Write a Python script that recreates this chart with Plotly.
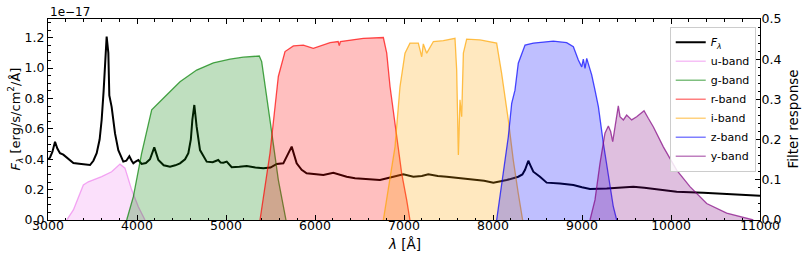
import plotly.graph_objects as go

# ---------------- data ----------------
spec_wave = [3000, 3022, 3050, 3079, 3105, 3135, 3172, 3230, 3285, 3350, 3420, 3472, 3510, 3547,
             3580, 3603, 3625, 3640, 3659, 3678, 3689, 3715, 3735, 3753, 3790, 3846, 3880, 3914,
             3940, 3959, 3985, 4015, 4052, 4100, 4146, 4175, 4194, 4215, 4240, 4300, 4371, 4430,
             4483, 4540, 4577, 4605, 4622, 4644, 4670, 4708, 4783, 4850, 4913, 4940, 4970, 5008,
             5064, 5150, 5233, 5330, 5420, 5500, 5570, 5644, 5682, 5719, 5738, 5794, 5850, 5906,
             6000, 6094, 6206, 6356, 6450, 6581, 6730, 6880, 6992, 7105, 7200, 7273, 7380, 7480,
             7600, 7742, 7900, 8004, 8154, 8284, 8330, 8360, 8397, 8420, 8453, 8528, 8603, 8753,
             8903, 9000, 9090, 9278, 9427, 9577, 9700, 9801, 10064, 10363, 10738, 11000]
spec_flux_1e17 = [0.40, 0.41, 0.45, 0.515, 0.47, 0.44, 0.43, 0.40, 0.375, 0.37, 0.365, 0.362, 0.39, 0.44,
                  0.53, 0.66, 0.85, 1.05, 1.207, 1.10, 0.82, 0.745, 0.65, 0.57, 0.46, 0.384, 0.39, 0.42,
                  0.39, 0.373, 0.385, 0.395, 0.369, 0.375, 0.40, 0.45, 0.478, 0.44, 0.395, 0.36, 0.351, 0.36,
                  0.373, 0.40, 0.44, 0.53, 0.66, 0.757, 0.614, 0.46, 0.384, 0.38, 0.395, 0.378, 0.377, 0.384,
                  0.347, 0.35, 0.355, 0.345, 0.34, 0.345, 0.369, 0.373, 0.417, 0.46, 0.483, 0.373, 0.33, 0.307,
                  0.30, 0.296, 0.311, 0.285, 0.275, 0.268, 0.263, 0.285, 0.301, 0.285, 0.29, 0.301, 0.29, 0.285,
                  0.278, 0.268, 0.258, 0.246, 0.263, 0.285, 0.30, 0.33, 0.39, 0.36, 0.318, 0.285, 0.246, 0.241,
                  0.23, 0.215, 0.204, 0.208, 0.215, 0.219, 0.212, 0.204, 0.186, 0.18, 0.171, 0.16]

u_wave = [3210, 3285, 3397, 3453, 3603, 3715, 3809, 3865, 3940, 4015, 4090]
u_resp = [0.0, 0.025, 0.087, 0.095, 0.108, 0.12, 0.139, 0.129, 0.075, 0.033, 0.0]

g_wave = [3884, 3959, 4052, 4165, 4296, 4483, 4670, 4858, 5045, 5194, 5374, 5401, 5494, 5588, 5674]
g_resp = [0.0, 0.058, 0.166, 0.274, 0.303, 0.344, 0.373, 0.391, 0.40, 0.405, 0.408, 0.394, 0.249, 0.10, 0.0]

r_wave = [5382, 5494, 5588, 5663, 5757, 5869, 5981, 6169, 6260, 6273, 6285, 6356, 6543, 6768,
          6806, 6843, 6890, 6899, 6918, 6974, 7030, 7067]
r_resp = [0.0, 0.166, 0.357, 0.419, 0.433, 0.435, 0.427, 0.441, 0.444, 0.434, 0.444, 0.446, 0.452, 0.454,
          0.415, 0.332, 0.255, 0.241, 0.216, 0.116, 0.05, 0.0]

i_wave = [6768, 6843, 6899, 6955, 7011, 7067, 7161, 7180, 7199, 7217, 7255, 7330, 7442, 7573, 7592,
          7611, 7629, 7648, 7667, 7704, 7854, 8041, 8097, 8172, 8228, 8284, 8333]
i_resp = [0.0, 0.10, 0.182, 0.332, 0.415, 0.44, 0.44, 0.423, 0.406, 0.438, 0.415, 0.444, 0.446, 0.452, 0.373,
          0.162, 0.299, 0.257, 0.415, 0.450, 0.448, 0.44, 0.365, 0.249, 0.149, 0.066, 0.0]

z_wave = [8041, 8097, 8172, 8210, 8247, 8284, 8360, 8453, 8678, 8828, 8903, 8959, 8997, 9015, 9034,
          9053, 9070, 9109, 9146, 9184, 9240, 9296, 9352, 9390]
z_resp = [0.0, 0.083, 0.207, 0.29, 0.323, 0.39, 0.435, 0.44, 0.445, 0.441, 0.431, 0.398, 0.381, 0.40, 0.377,
          0.402, 0.39, 0.361, 0.323, 0.282, 0.191, 0.108, 0.033, 0.0]

y_wave = [9090, 9146, 9202, 9258, 9296, 9322, 9345, 9371, 9390, 9408, 9427, 9465, 9502, 9558, 9614,
          9652, 9697, 9745, 9801, 9914, 10064, 10213, 10401, 10626, 10925]
y_resp = [0.0, 0.05, 0.141, 0.216, 0.234, 0.22, 0.195, 0.232, 0.249, 0.284, 0.257, 0.249, 0.261, 0.249, 0.257,
          0.265, 0.272, 0.253, 0.232, 0.182, 0.124, 0.083, 0.041, 0.017, 0.0]

band_names = ["u-band", "g-band", "r-band", "i-band", "z-band", "y-band"]
band_rgb = [(238, 130, 238), (0, 128, 0), (255, 0, 0), (255, 165, 0), (0, 0, 255), (128, 0, 128)]
band_data = [(u_wave, u_resp), (g_wave, g_resp), (r_wave, r_resp),
             (i_wave, i_resp), (z_wave, z_resp), (y_wave, y_resp)]

FONT = "DejaVu Sans"

fig = go.Figure()

fig.add_trace(go.Scatter(x=spec_wave, y=spec_flux_1e17, mode="lines",
                         line=dict(color="black", width=2),
                         name="<i>F</i><sub><i>λ</i></sub>", yaxis="y"))

for name, rgb, (w, r) in zip(band_names, band_rgb, band_data):
    r_, g_, b_ = rgb
    fig.add_trace(go.Scatter(x=w, y=r, mode="lines", yaxis="y2", fill="tozeroy",
                             fillcolor=f"rgba({r_},{g_},{b_},0.25)",
                             line=dict(color=f"rgba({r_},{g_},{b_},0.7)", width=1.3),
                             showlegend=False, hoverinfo="x+y", name=name))

for name, rgb in zip(band_names, band_rgb):
    r_, g_, b_ = rgb
    fig.add_trace(go.Scatter(x=[None], y=[None], mode="lines", yaxis="y2",
                             line=dict(color=f"rgba({r_},{g_},{b_},0.5)", width=1.5),
                             name=name))

tickfont = dict(family=FONT, size=12.5, color="black")

fig.update_layout(
    width=806, height=260,
    margin=dict(l=48, r=46, t=19, b=40, autoexpand=False),
    paper_bgcolor="white", plot_bgcolor="white",
    font=dict(family=FONT, size=12, color="black"),
    showlegend=True,
    legend=dict(x=0.994, y=0.962, xanchor="right", yanchor="top",
                bgcolor="rgba(255,255,255,0.85)", bordercolor="#cccccc", borderwidth=1,
                font=dict(family=FONT, size=11, color="black"),
                tracegroupgap=0),
    xaxis=dict(range=[3000, 11000], tick0=3000, dtick=1000, tickformat="d", automargin=False,
               showline=True, linecolor="black", linewidth=1, mirror="ticks",
               ticks="inside", ticklen=5, tickwidth=1, tickcolor="black", ticklabelstandoff=-6,
               minor=dict(ticks="inside", dtick=200, ticklen=2.5, tickwidth=0.8, tickcolor="black"),
               showgrid=False, zeroline=False, tickfont=tickfont),
    yaxis=dict(range=[0, 1.323], tick0=0, dtick=0.2, tickformat=".1f", automargin=False,
               showline=True, linecolor="black", linewidth=1,
               ticks="inside", ticklen=5, tickwidth=1, tickcolor="black",
               minor=dict(ticks="inside", dtick=0.05, ticklen=2.5, tickwidth=0.8, tickcolor="black"),
               showgrid=False, zeroline=False, tickfont=tickfont),
    yaxis2=dict(range=[0, 0.5], tick0=0, dtick=0.1, tickformat=".1f", overlaying="y", side="right",
                automargin=False,
                showline=True, linecolor="black", linewidth=1, ticklabelstandoff=-2,
                ticks="inside", ticklen=5, tickwidth=1, tickcolor="black",
                minor=dict(ticks="inside", dtick=0.02, ticklen=2.5, tickwidth=0.8, tickcolor="black"),
                showgrid=False, zeroline=False, tickfont=tickfont),
    annotations=[
        dict(text="1e−17", x=0, y=1, xref="paper", yref="paper", xanchor="left", yanchor="bottom",
             yshift=-2, showarrow=False, font=dict(family=FONT, size=12, color="black")),
        dict(text="<i>F</i><sub><i>λ</i></sub> [erg/s/cm<sup>2</sup>/Å]", x=(15 - 48) / 712, y=0.5,
             xref="paper", yref="paper", xanchor="center", yanchor="middle",
             textangle=-90, showarrow=False,
             font=dict(family=FONT, size=13, color="black")),
        dict(text="Filter response", x=(792 - 48) / 712, y=0.5,
             xref="paper", yref="paper", xanchor="center", yanchor="middle",
             textangle=-90, showarrow=False,
             font=dict(family=FONT, size=13.5, color="black")),
        dict(text="<i>λ</i> [Å]", x=0.5, y=(220 - 244) / 201,
             xref="paper", yref="paper", xanchor="center", yanchor="middle", showarrow=False,
             font=dict(family=FONT, size=13.5, color="black")),
    ],
)

# remove the default 8px page margin so the 806x260 figure fills the window exactly
fig.write_html("out.html", config={"displayModeBar": False},
               post_script="document.body.style.margin='0';document.body.style.overflow='hidden';")
